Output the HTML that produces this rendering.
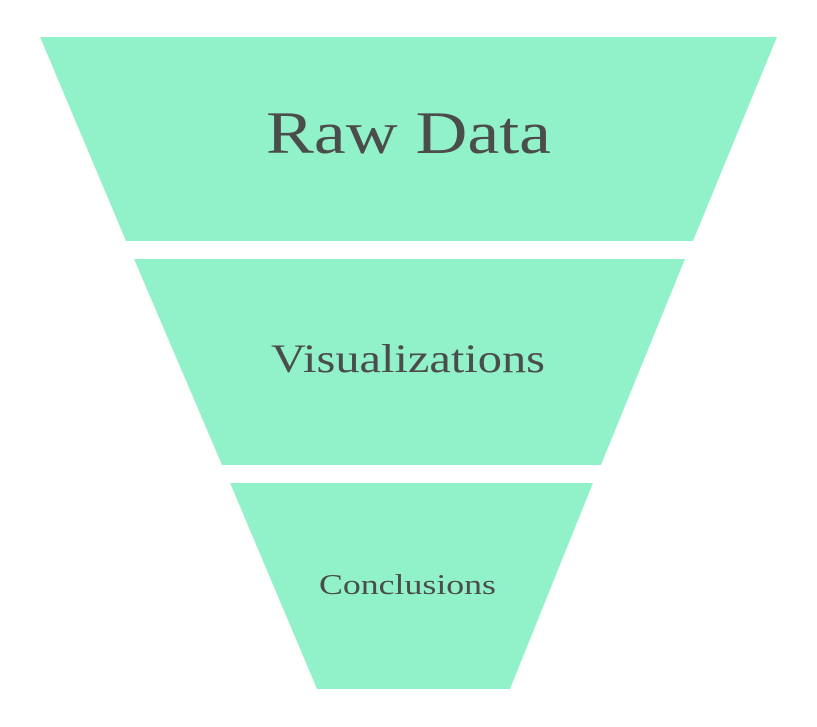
<!DOCTYPE html>
<html>
<head>
<meta charset="utf-8">
<style>
html,body{margin:0;padding:0;background:#fff;}
svg{display:block;}
text{font-family:"Liberation Serif",serif;fill:#4a4d4b;text-anchor:middle;}
</style>
</head>
<body>
<svg width="817" height="727" viewBox="0 0 817 727" xmlns="http://www.w3.org/2000/svg">
<rect width="817" height="727" fill="#fff"/>
<polygon points="40,37 777,37 693,241 126,241" fill="#91f2c9"/>
<polygon points="134,259 685,259 601,465 222,465" fill="#91f2c9"/>
<polygon points="230,483 593,483 510,689 317,689" fill="#91f2c9"/>
<text x="408.5" y="153" font-size="60" textLength="285" lengthAdjust="spacingAndGlyphs">Raw Data</text>
<text x="408" y="372" font-size="40" textLength="274" lengthAdjust="spacingAndGlyphs">Visualizations</text>
<text x="407.5" y="594" font-size="28" textLength="177" lengthAdjust="spacingAndGlyphs">Conclusions</text>
</svg>
</body>
</html>
